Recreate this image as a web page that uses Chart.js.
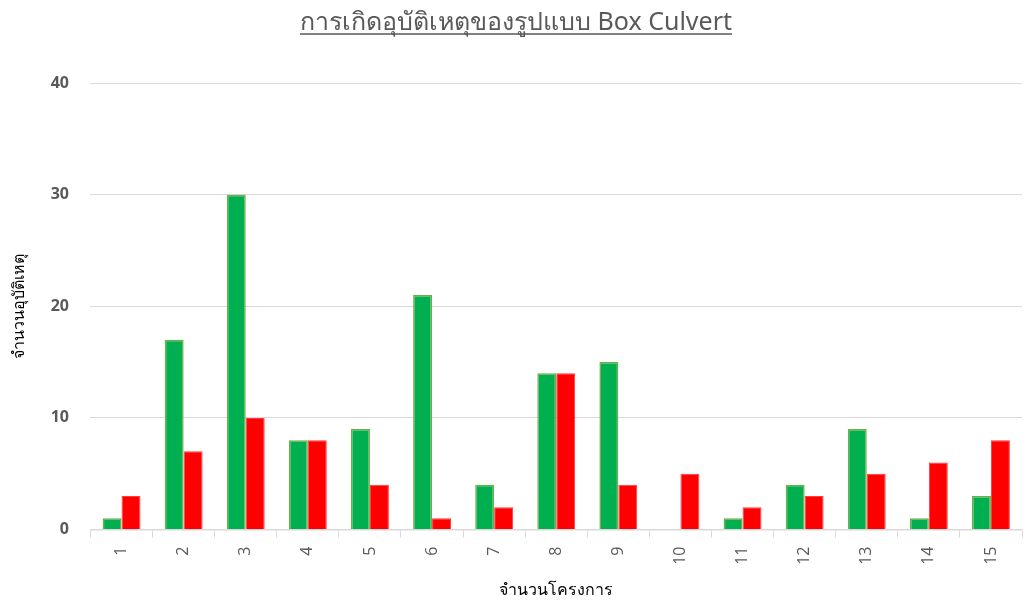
<!DOCTYPE html>
<html>
<head>
<meta charset="utf-8">
<script src="https://cdn.jsdelivr.net/npm/chart.js@4/dist/chart.umd.min.js"></script>
<style>
  html, body { margin: 0; padding: 0; background: #fff; overflow: hidden; }
</style>
</head>
<body>
<canvas id="chart" width="1027" height="604"></canvas>
<script>
const projets = ["1","2","3","4","5","6","7","8","9","10","11","12","13","14","15"];
const serieVerte = [1, 17, 30, 8, 9, 21, 4, 14, 15, null, 1, 4, 9, 1, 3];
const serieRouge = [3, 7, 10, 8, 4, 1, 2, 14, 4, 5, 2, 3, 5, 6, 8];
const titre = "การเกิดอุบัติเหตุของรูปแบบ Box Culvert";
const titreX = "จำนวนโครงการ";
const titreY = "จำนวนอุบัติเหตุ";

// souligne le titre comme dans Excel
const souligne = {
    id: "souligne",
    afterDraw(chart) {
        const t = chart.titleBlock;
        if (!t) return;
        const ctx = chart.ctx;
        ctx.save();
        ctx.font = "25px 'Noto Sans', sans-serif";
        const w = ctx.measureText(titre).width;
        const cx = (t.left + t.right) / 2;
        ctx.strokeStyle = "#595959";
        ctx.lineWidth = 1.5;
        ctx.beginPath();
        ctx.moveTo(cx - w / 2, t.top + 34);
        ctx.lineTo(cx + w / 2, t.top + 34);
        ctx.stroke();
        ctx.restore();
    }
};

new Chart(document.getElementById("chart"), {
    type: "bar",
    data: {
        labels: projets,
        datasets: [{
            label: "ชุด 1",
            data: serieVerte,
            backgroundColor: "#00b050",
            borderColor: "#70ad47",
            borderWidth: 1.5,
            barPercentage: 1,
            categoryPercentage: 0.61
        }, {
            label: "ชุด 2",
            data: serieRouge,
            backgroundColor: "#ff0000",
            borderColor: "#ff3b3b",
            borderWidth: 1,
            barPercentage: 1,
            categoryPercentage: 0.61
        }]
    },
    options: {
        responsive: false,
        animation: false,
        layout: { padding: { left: 10, right: 5, top: 0, bottom: 4 } },
        plugins: {
            legend: { display: false },
            tooltip: { enabled: false },
            title: {
                display: true,
                text: titre,
                color: "#595959",
                font: { size: 25, family: "'Noto Sans', sans-serif", weight: "normal" },
                padding: { top: 8, bottom: 45 }
            }
        },
        scales: {
            x: {
                grid: { display: true, drawOnChartArea: false, offset: true, color: "#d9d9d9", tickLength: 8 },
                border: { color: "#d9d9d9", width: 1.5 },
                ticks: { color: "#595959", autoSkip: false, font: { size: 16, family: "'Open Sans', sans-serif" }, minRotation: 90, maxRotation: 90, padding: 9 },
                title: { display: true, text: titreX, color: "#000", font: { size: 16, family: "'Noto Sans', sans-serif" }, padding: { top: 7, bottom: 0 } }
            },
            y: {
                min: 0, max: 40,
                ticks: { stepSize: 10, color: "#595959", font: { size: 16, weight: "bold", family: "'Open Sans', sans-serif" }, padding: 21.5 },
                grid: { color: "#d9d9d9", lineWidth: 1, drawTicks: false },
                border: { display: false },
                title: { display: true, text: titreY, color: "#000", font: { size: 16, family: "'Noto Sans', sans-serif" }, padding: { top: 0, bottom: 0 } }
            }
        }
    },
    plugins: [souligne]
});
</script>
</body>
</html>
